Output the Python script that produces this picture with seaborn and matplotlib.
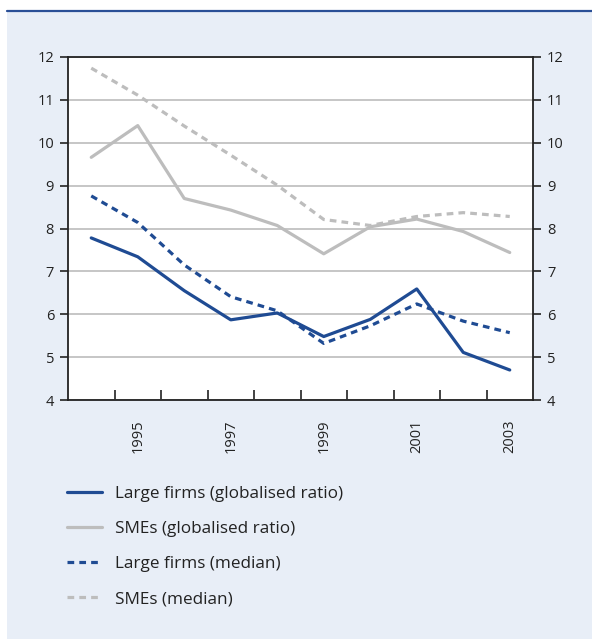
import matplotlib
matplotlib.use("Agg")
import matplotlib.pyplot as plt
from matplotlib.patches import Rectangle
from matplotlib.lines import Line2D
from matplotlib.ticker import FixedLocator, NullFormatter
import seaborn as sns
import pandas as pd

# Ratio series by year
years = [1994, 1995, 1996, 1997, 1998, 1999, 2000, 2001, 2002, 2003]
large_globalised = [7.78, 7.34, 6.55, 5.87, 6.03, 5.48, 5.88, 6.59, 5.11, 4.70]
sme_globalised = [9.66, 10.40, 8.70, 8.43, 8.07, 7.41, 8.04, 8.22, 7.93, 7.44]
large_median = [8.76, 8.14, 7.15, 6.41, 6.08, 5.32, 5.73, 6.24, 5.84, 5.57]
sme_median = [11.74, 11.11, 10.39, 9.71, 9.01, 8.21, 8.07, 8.28, 8.37, 8.28]

series_labels = [
    "Large firms (globalised ratio)",
    "SMEs (globalised ratio)",
    "Large firms (median)",
    "SMEs (median)",
]
year_labels = ["1995", "1997", "1999", "2001", "2003"]
y_ticks = [4, 5, 6, 7, 8, 9, 10, 11, 12]

BLUE = "#1f4b93"
GREY = "#bdbdbd"
BG = "#e8eef7"

sns.set_style("white")
plt.rcParams["font.family"] = ["Open Sans", "DejaVu Sans"]
plt.rcParams["font.size"] = 10

fig = plt.figure(figsize=(5.92, 6.39), dpi=100)
fig.patch.set_facecolor("white")

# Panel background and top rule
fig.patches.append(Rectangle((7 / 592, 0.0), 1 - 7 / 592, 1 - 12 / 639,
                             transform=fig.transFigure, facecolor=BG,
                             edgecolor="none", zorder=-5))
fig.lines.append(Line2D([7 / 592, 1.0], [1 - 11 / 639, 1 - 11 / 639],
                        transform=fig.transFigure, color="#2a4f96", lw=1.6,
                        zorder=-4))

ax = fig.add_axes([68 / 592, 1 - 400 / 639, (533 - 68) / 592, (400 - 57) / 639])
ax.set_facecolor("white")
ax.set_zorder(1)

df = pd.DataFrame({
    "year": years * 4,
    "value": large_globalised + sme_globalised + large_median + sme_median,
    "series": sum([[s] * len(years) for s in series_labels], []),
})

styles = {
    series_labels[0]: dict(color=BLUE, dashes=None),
    series_labels[1]: dict(color=GREY, dashes=None),
    series_labels[2]: dict(color=BLUE, dashes=(2.1, 1.6)),
    series_labels[3]: dict(color=GREY, dashes=(2.1, 1.6)),
}
for name in series_labels:
    sub = df[df["series"] == name]
    st = styles[name]
    sns.lineplot(data=sub, x="year", y="value", ax=ax, color=st["color"],
                 lw=2.3, label=name, zorder=3)
    line = ax.lines[-1]
    if st["dashes"] is not None:
        line.set_dashes(st["dashes"])
        line.set_dash_capstyle("butt")

ax.set_xlim(years[0] - 0.5, years[-1] + 0.5)
ax.set_ylim(4, 12)
ax.set_yticks(y_ticks)
ax.yaxis.grid(True, color="#bcbcbc", lw=1.2)
ax.set_axisbelow(True)
ax.set_xlabel("")
ax.set_ylabel("")

for sp in ax.spines.values():
    sp.set_color("#222222")
    sp.set_linewidth(1.3)

ax.tick_params(axis="y", which="both", left=True, right=True, labelleft=True,
               labelright=True, direction="out", length=6, width=1.2,
               color="#222222", labelsize=10.5, labelcolor="#222222", pad=4)

# Year boundaries as inward ticks, labels on odd years
ax.xaxis.set_minor_locator(FixedLocator([y + 0.5 for y in years[:-1]]))
ax.xaxis.set_minor_formatter(NullFormatter())
ax.set_xticks([int(y) for y in year_labels])
ax.set_xticklabels(year_labels, rotation=90)
ax.tick_params(axis="x", which="major", length=0, pad=14, labelsize=10.5,
               labelcolor="#222222")
ax.tick_params(axis="x", which="minor", bottom=True, direction="in",
               length=7, width=1.2, color="#222222")

handles, labels = ax.get_legend_handles_labels()
ax.legend_.remove()
fig.legend(handles, labels, loc="upper left",
           bbox_to_anchor=(67 / 592, 1 - 486 / 639), frameon=False,
           fontsize=12.3, handlelength=2.05, handletextpad=0.75,
           labelspacing=1.12, borderpad=0, borderaxespad=0,
           labelcolor="#222222")

fig.savefig("out.png", dpi=100, facecolor=fig.get_facecolor())
